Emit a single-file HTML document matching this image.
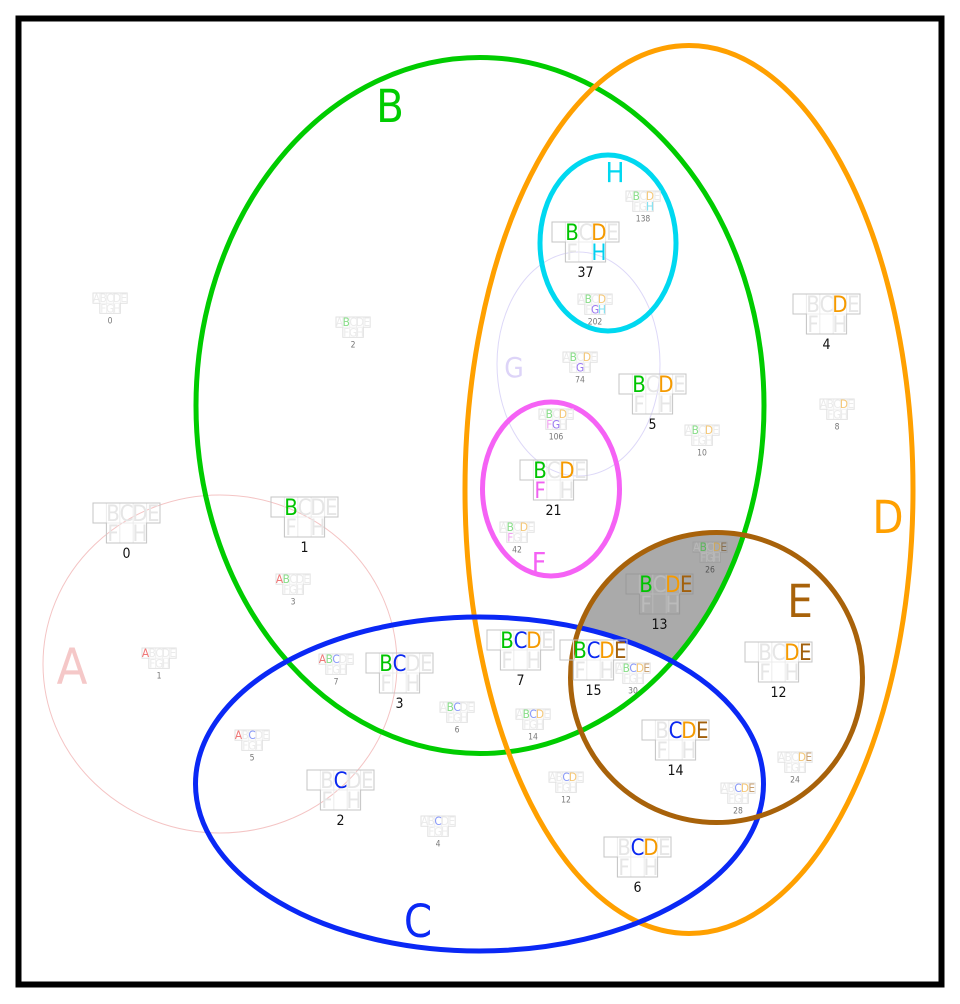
<!DOCTYPE html>
<html><head><meta charset="utf-8"><style>
html,body{margin:0;padding:0;background:#fff}
svg{display:block}
.t{font-family:"Liberation Sans Narrow","DejaVu Sans Condensed","Liberation Sans",sans-serif;text-anchor:middle}
.G text{font-family:"Liberation Sans Narrow","DejaVu Sans Condensed","Liberation Sans",sans-serif;font-size:22px;text-anchor:middle}
.s text{font-size:23px}
.dv{fill:none;stroke:#ececec;stroke-width:1;vector-effect:non-scaling-stroke}
.ol{fill:none;stroke:#c4c4c4;stroke-width:1;vector-effect:non-scaling-stroke}
.s .ol{stroke:#e2e2e2}
.s .dv{stroke:#f0f0f0}
.k{fill:#e6e6e6}
.b{fill:#00c400}.c{fill:#0a28f0}.d{fill:#f59a00}.e{fill:#a2600c}.f{fill:#f060f0}.h{fill:#00d0f0}
.s .k{fill:#ebebeb}
.s .a{fill:#f07878}.s .b{fill:#88dd88}.s .c{fill:#8898f8}.s .d{fill:#f5c878}.s .e{fill:#c8a070}.s .f{fill:#f0a0f0}.s .g{fill:#9a78f0}.s .h{fill:#80e0f0}
.lb{font-family:"Liberation Sans Narrow","DejaVu Sans Condensed","Liberation Sans",sans-serif;font-size:14px;fill:#111;text-anchor:middle}
.sl{font-family:"Liberation Sans Narrow","DejaVu Sans Condensed","Liberation Sans",sans-serif;font-size:8.5px;fill:#777;text-anchor:middle}
</style></head><body>
<svg width="960" height="1004" viewBox="0 0 960 1004" xmlns="http://www.w3.org/2000/svg">
<defs>
<clipPath id="cb"><ellipse cx="480" cy="405.5" rx="284" ry="348"/></clipPath>
<mask id="mc"><rect width="960" height="1004" fill="#fff"/><ellipse cx="479.5" cy="784" rx="284" ry="167" fill="#000"/></mask>
</defs>
<rect x="0" y="0" width="960" height="1004" fill="#fff"/>
<g clip-path="url(#cb)"><g mask="url(#mc)"><ellipse cx="716.5" cy="677.5" rx="146" ry="145" fill="#aaaaaa"/></g></g>

<!-- thin sets -->
<ellipse cx="220" cy="664" rx="177" ry="169" fill="none" stroke="#f4c4c4" stroke-width="1"/>
<ellipse cx="578.5" cy="364" rx="81.5" ry="112" fill="none" stroke="#ddd8f8" stroke-width="1"/>

<!-- big sets -->
<ellipse cx="480" cy="405.5" rx="284" ry="348" fill="none" stroke="#00cc00" stroke-width="5"/>
<ellipse cx="689" cy="489.5" rx="224" ry="444" fill="none" stroke="#ffa000" stroke-width="5"/>
<ellipse cx="479.5" cy="784" rx="284" ry="167" fill="none" stroke="#0a28f5" stroke-width="5"/>
<ellipse cx="716.5" cy="677.5" rx="146" ry="145" fill="none" stroke="#a8620a" stroke-width="5"/>
<ellipse cx="608" cy="243" rx="68" ry="88" fill="none" stroke="#00d8f0" stroke-width="5"/>
<ellipse cx="551" cy="489" rx="68.5" ry="87" fill="none" stroke="#f562f5" stroke-width="5"/>

<!-- set labels -->
<text class="t" x="390" y="122" font-size="45" fill="#00cc00">B</text>
<text class="t" x="888" y="533" font-size="45" fill="#ffa000">D</text>
<text class="t" x="800" y="617" font-size="45" fill="#a8620a">E</text>
<text class="t" x="418" y="937" font-size="45" fill="#0a28f5">C</text>
<text class="t" x="72" y="684" font-size="50" fill="#f5c8c8">A</text>
<text class="t" x="514" y="377" font-size="28" fill="#ddd4f8">G</text>
<text class="t" x="539" y="572" font-size="28" fill="#f562f5">F</text>
<text class="t" x="615" y="182" font-size="28" fill="#00d8f0">H</text>

<!-- large glyphs -->
<g class="G" transform="translate(93,503)"><path class="dv" d="M13.4 0V40M26.8 0V40M40.2 0V40M53.6 0V20M13.4 20H53.6"/><path class="ol" d="M0 0H67V20H53.6V40H13.4V20H0Z"/>
<text x="20.1" y="18" class="k">B</text><text x="33.5" y="18" class="k">C</text><text x="46.9" y="18" class="k">D</text><text x="60.3" y="18" class="k">E</text><text x="20.1" y="38" class="k">F</text><text x="46.9" y="38" class="k">H</text></g>
<text class="lb" x="126.5" y="558">0</text>

<g class="G" transform="translate(271,497)"><path class="dv" d="M13.4 0V40M26.8 0V40M40.2 0V40M53.6 0V20M13.4 20H53.6"/><path class="ol" d="M0 0H67V20H53.6V40H13.4V20H0Z"/>
<text x="20.1" y="18" class="b">B</text><text x="33.5" y="18" class="k">C</text><text x="46.9" y="18" class="k">D</text><text x="60.3" y="18" class="k">E</text><text x="20.1" y="38" class="k">F</text><text x="46.9" y="38" class="k">H</text></g>
<text class="lb" x="304.5" y="552">1</text>

<g class="G" transform="translate(552,222)"><path class="dv" d="M13.4 0V40M26.8 0V40M40.2 0V40M53.6 0V20M13.4 20H53.6"/><path class="ol" d="M0 0H67V20H53.6V40H13.4V20H0Z"/>
<text x="20.1" y="18" class="b">B</text><text x="33.5" y="18" class="k">C</text><text x="46.9" y="18" class="d">D</text><text x="60.3" y="18" class="k">E</text><text x="20.1" y="38" class="k">F</text><text x="46.9" y="38" class="h">H</text></g>
<text class="lb" x="585.5" y="277">37</text>

<g class="G" transform="translate(619,374)"><path class="dv" d="M13.4 0V40M26.8 0V40M40.2 0V40M53.6 0V20M13.4 20H53.6"/><path class="ol" d="M0 0H67V20H53.6V40H13.4V20H0Z"/>
<text x="20.1" y="18" class="b">B</text><text x="33.5" y="18" class="k">C</text><text x="46.9" y="18" class="d">D</text><text x="60.3" y="18" class="k">E</text><text x="20.1" y="38" class="k">F</text><text x="46.9" y="38" class="k">H</text></g>
<text class="lb" x="652.5" y="429">5</text>

<g class="G" transform="translate(793,294)"><path class="dv" d="M13.4 0V40M26.8 0V40M40.2 0V40M53.6 0V20M13.4 20H53.6"/><path class="ol" d="M0 0H67V20H53.6V40H13.4V20H0Z"/>
<text x="20.1" y="18" class="k">B</text><text x="33.5" y="18" class="k">C</text><text x="46.9" y="18" class="d">D</text><text x="60.3" y="18" class="k">E</text><text x="20.1" y="38" class="k">F</text><text x="46.9" y="38" class="k">H</text></g>
<text class="lb" x="826.5" y="349">4</text>

<g class="G" transform="translate(520,460)"><path class="dv" d="M13.4 0V40M26.8 0V40M40.2 0V40M53.6 0V20M13.4 20H53.6"/><path class="ol" d="M0 0H67V20H53.6V40H13.4V20H0Z"/>
<text x="20.1" y="18" class="b">B</text><text x="33.5" y="18" class="k">C</text><text x="46.9" y="18" class="d">D</text><text x="60.3" y="18" class="k">E</text><text x="20.1" y="38" class="f">F</text><text x="46.9" y="38" class="k">H</text></g>
<text class="lb" x="553.5" y="515">21</text>

<g class="G" transform="translate(626,574)"><path class="dv" style="stroke:#b8b8b8" d="M13.4 0V40M26.8 0V40M40.2 0V40M53.6 0V20M13.4 20H53.6"/><path class="ol" style="stroke:#999" d="M0 0H67V20H53.6V40H13.4V20H0Z"/>
<text x="20.1" y="18" class="b">B</text><text x="33.5" y="18" style="fill:#bbb">C</text><text x="46.9" y="18" class="d">D</text><text x="60.3" y="18" class="e">E</text><text x="20.1" y="38" style="fill:#bbb">F</text><text x="46.9" y="38" style="fill:#bbb">H</text></g>
<text class="lb" x="659.5" y="629">13</text>

<g class="G" transform="translate(487,630)"><path class="dv" d="M13.4 0V40M26.8 0V40M40.2 0V40M53.6 0V20M13.4 20H53.6"/><path class="ol" d="M0 0H67V20H53.6V40H13.4V20H0Z"/>
<text x="20.1" y="18" class="b">B</text><text x="33.5" y="18" class="c">C</text><text x="46.9" y="18" class="d">D</text><text x="60.3" y="18" class="k">E</text><text x="20.1" y="38" class="k">F</text><text x="46.9" y="38" class="k">H</text></g>
<text class="lb" x="520.5" y="685">7</text>

<g class="G" transform="translate(560,640)"><path class="dv" d="M13.4 0V40M26.8 0V40M40.2 0V40M53.6 0V20M13.4 20H53.6"/><path class="ol" d="M0 0H67V20H53.6V40H13.4V20H0Z"/>
<text x="20.1" y="18" class="b">B</text><text x="33.5" y="18" class="c">C</text><text x="46.9" y="18" class="d">D</text><text x="60.3" y="18" class="e">E</text><text x="20.1" y="38" class="k">F</text><text x="46.9" y="38" class="k">H</text></g>
<text class="lb" x="593.5" y="695">15</text>

<g class="G" transform="translate(366,653)"><path class="dv" d="M13.4 0V40M26.8 0V40M40.2 0V40M53.6 0V20M13.4 20H53.6"/><path class="ol" d="M0 0H67V20H53.6V40H13.4V20H0Z"/>
<text x="20.1" y="18" class="b">B</text><text x="33.5" y="18" class="c">C</text><text x="46.9" y="18" class="k">D</text><text x="60.3" y="18" class="k">E</text><text x="20.1" y="38" class="k">F</text><text x="46.9" y="38" class="k">H</text></g>
<text class="lb" x="399.5" y="708">3</text>

<g class="G" transform="translate(307,770)"><path class="dv" d="M13.4 0V40M26.8 0V40M40.2 0V40M53.6 0V20M13.4 20H53.6"/><path class="ol" d="M0 0H67V20H53.6V40H13.4V20H0Z"/>
<text x="20.1" y="18" class="k">B</text><text x="33.5" y="18" class="c">C</text><text x="46.9" y="18" class="k">D</text><text x="60.3" y="18" class="k">E</text><text x="20.1" y="38" class="k">F</text><text x="46.9" y="38" class="k">H</text></g>
<text class="lb" x="340.5" y="825">2</text>

<g class="G" transform="translate(745,642)"><path class="dv" d="M13.4 0V40M26.8 0V40M40.2 0V40M53.6 0V20M13.4 20H53.6"/><path class="ol" d="M0 0H67V20H53.6V40H13.4V20H0Z"/>
<text x="20.1" y="18" class="k">B</text><text x="33.5" y="18" class="k">C</text><text x="46.9" y="18" class="d">D</text><text x="60.3" y="18" class="e">E</text><text x="20.1" y="38" class="k">F</text><text x="46.9" y="38" class="k">H</text></g>
<text class="lb" x="778.5" y="697">12</text>

<g class="G" transform="translate(642,720)"><path class="dv" d="M13.4 0V40M26.8 0V40M40.2 0V40M53.6 0V20M13.4 20H53.6"/><path class="ol" d="M0 0H67V20H53.6V40H13.4V20H0Z"/>
<text x="20.1" y="18" class="k">B</text><text x="33.5" y="18" class="c">C</text><text x="46.9" y="18" class="d">D</text><text x="60.3" y="18" class="e">E</text><text x="20.1" y="38" class="k">F</text><text x="46.9" y="38" class="k">H</text></g>
<text class="lb" x="675.5" y="775">14</text>

<g class="G" transform="translate(604,837)"><path class="dv" d="M13.4 0V40M26.8 0V40M40.2 0V40M53.6 0V20M13.4 20H53.6"/><path class="ol" d="M0 0H67V20H53.6V40H13.4V20H0Z"/>
<text x="20.1" y="18" class="k">B</text><text x="33.5" y="18" class="c">C</text><text x="46.9" y="18" class="d">D</text><text x="60.3" y="18" class="k">E</text><text x="20.1" y="38" class="k">F</text><text x="46.9" y="38" class="k">H</text></g>
<text class="lb" x="637.5" y="892">6</text>

<!-- small glyphs -->
<g class="G s" transform="translate(93,293) scale(0.51)"><path class="dv" d="M13.4 0V40M26.8 0V40M40.2 0V40M53.6 0V20M13.4 20H53.6"/><path class="ol" d="M0 0H67V20H53.6V40H13.4V20H0Z"/>
<text x="6.7" y="18" class="k">A</text><text x="20.1" y="18" class="k">B</text><text x="33.5" y="18" class="k">C</text><text x="46.9" y="18" class="k">D</text><text x="60.3" y="18" class="k">E</text><text x="20.1" y="38" class="k">F</text><text x="33.5" y="38" class="k">G</text><text x="46.9" y="38" class="k">H</text></g>
<text class="sl" x="110" y="323.5">0</text>

<g class="G s" transform="translate(336,317) scale(0.51)"><path class="dv" d="M13.4 0V40M26.8 0V40M40.2 0V40M53.6 0V20M13.4 20H53.6"/><path class="ol" d="M0 0H67V20H53.6V40H13.4V20H0Z"/>
<text x="6.7" y="18" class="k">A</text><text x="20.1" y="18" class="b">B</text><text x="33.5" y="18" class="k">C</text><text x="46.9" y="18" class="k">D</text><text x="60.3" y="18" class="k">E</text><text x="20.1" y="38" class="k">F</text><text x="33.5" y="38" class="k">G</text><text x="46.9" y="38" class="k">H</text></g>
<text class="sl" x="353" y="347.5">2</text>

<g class="G s" transform="translate(626,191) scale(0.51)"><path class="dv" d="M13.4 0V40M26.8 0V40M40.2 0V40M53.6 0V20M13.4 20H53.6"/><path class="ol" d="M0 0H67V20H53.6V40H13.4V20H0Z"/>
<text x="6.7" y="18" class="k">A</text><text x="20.1" y="18" class="b">B</text><text x="33.5" y="18" class="k">C</text><text x="46.9" y="18" class="d">D</text><text x="60.3" y="18" class="k">E</text><text x="20.1" y="38" class="k">F</text><text x="33.5" y="38" class="k">G</text><text x="46.9" y="38" class="h">H</text></g>
<text class="sl" x="643" y="221.5">138</text>

<g class="G s" transform="translate(578,294) scale(0.51)"><path class="dv" d="M13.4 0V40M26.8 0V40M40.2 0V40M53.6 0V20M13.4 20H53.6"/><path class="ol" d="M0 0H67V20H53.6V40H13.4V20H0Z"/>
<text x="6.7" y="18" class="k">A</text><text x="20.1" y="18" class="b">B</text><text x="33.5" y="18" class="k">C</text><text x="46.9" y="18" class="d">D</text><text x="60.3" y="18" class="k">E</text><text x="20.1" y="38" class="k">F</text><text x="33.5" y="38" class="g">G</text><text x="46.9" y="38" class="h">H</text></g>
<text class="sl" x="595" y="324.5">202</text>

<g class="G s" transform="translate(563,352) scale(0.51)"><path class="dv" d="M13.4 0V40M26.8 0V40M40.2 0V40M53.6 0V20M13.4 20H53.6"/><path class="ol" d="M0 0H67V20H53.6V40H13.4V20H0Z"/>
<text x="6.7" y="18" class="k">A</text><text x="20.1" y="18" class="b">B</text><text x="33.5" y="18" class="k">C</text><text x="46.9" y="18" class="d">D</text><text x="60.3" y="18" class="k">E</text><text x="20.1" y="38" class="k">F</text><text x="33.5" y="38" class="g">G</text><text x="46.9" y="38" class="k">H</text></g>
<text class="sl" x="580" y="382.5">74</text>

<g class="G s" transform="translate(539,409) scale(0.51)"><path class="dv" d="M13.4 0V40M26.8 0V40M40.2 0V40M53.6 0V20M13.4 20H53.6"/><path class="ol" d="M0 0H67V20H53.6V40H13.4V20H0Z"/>
<text x="6.7" y="18" class="k">A</text><text x="20.1" y="18" class="b">B</text><text x="33.5" y="18" class="k">C</text><text x="46.9" y="18" class="d">D</text><text x="60.3" y="18" class="k">E</text><text x="20.1" y="38" class="f">F</text><text x="33.5" y="38" class="g">G</text><text x="46.9" y="38" class="k">H</text></g>
<text class="sl" x="556" y="439.5">106</text>

<g class="G s" transform="translate(685,425) scale(0.51)"><path class="dv" d="M13.4 0V40M26.8 0V40M40.2 0V40M53.6 0V20M13.4 20H53.6"/><path class="ol" d="M0 0H67V20H53.6V40H13.4V20H0Z"/>
<text x="6.7" y="18" class="k">A</text><text x="20.1" y="18" class="b">B</text><text x="33.5" y="18" class="k">C</text><text x="46.9" y="18" class="d">D</text><text x="60.3" y="18" class="k">E</text><text x="20.1" y="38" class="k">F</text><text x="33.5" y="38" class="k">G</text><text x="46.9" y="38" class="k">H</text></g>
<text class="sl" x="702" y="455.5">10</text>

<g class="G s" transform="translate(820,399) scale(0.51)"><path class="dv" d="M13.4 0V40M26.8 0V40M40.2 0V40M53.6 0V20M13.4 20H53.6"/><path class="ol" d="M0 0H67V20H53.6V40H13.4V20H0Z"/>
<text x="6.7" y="18" class="k">A</text><text x="20.1" y="18" class="k">B</text><text x="33.5" y="18" class="k">C</text><text x="46.9" y="18" class="d">D</text><text x="60.3" y="18" class="k">E</text><text x="20.1" y="38" class="k">F</text><text x="33.5" y="38" class="k">G</text><text x="46.9" y="38" class="k">H</text></g>
<text class="sl" x="837" y="429.5">8</text>

<g class="G s" transform="translate(500,522) scale(0.51)"><path class="dv" d="M13.4 0V40M26.8 0V40M40.2 0V40M53.6 0V20M13.4 20H53.6"/><path class="ol" d="M0 0H67V20H53.6V40H13.4V20H0Z"/>
<text x="6.7" y="18" class="k">A</text><text x="20.1" y="18" class="b">B</text><text x="33.5" y="18" class="k">C</text><text x="46.9" y="18" class="d">D</text><text x="60.3" y="18" class="k">E</text><text x="20.1" y="38" class="f">F</text><text x="33.5" y="38" class="k">G</text><text x="46.9" y="38" class="k">H</text></g>
<text class="sl" x="517" y="552.5">42</text>

<g class="G s" transform="translate(693,542) scale(0.51)"><path class="dv" style="stroke:#b8b8b8" d="M13.4 0V40M26.8 0V40M40.2 0V40M53.6 0V20M13.4 20H53.6"/><path class="ol" style="stroke:#a0a0a0" d="M0 0H67V20H53.6V40H13.4V20H0Z"/>
<text x="6.7" y="18" style="fill:#b8b8b8">A</text><text x="20.1" y="18" style="fill:#5cb85c">B</text><text x="33.5" y="18" style="fill:#b8b8b8">C</text><text x="46.9" y="18" style="fill:#cfa85a">D</text><text x="60.3" y="18" style="fill:#8a7050">E</text><text x="20.1" y="38" style="fill:#b8b8b8">F</text><text x="33.5" y="38" style="fill:#b8b8b8">G</text><text x="46.9" y="38" style="fill:#b8b8b8">H</text></g>
<text class="sl" x="710" y="572.5" style="fill:#555">26</text>

<g class="G s" transform="translate(616,663) scale(0.51)"><path class="dv" d="M13.4 0V40M26.8 0V40M40.2 0V40M53.6 0V20M13.4 20H53.6"/><path class="ol" d="M0 0H67V20H53.6V40H13.4V20H0Z"/>
<text x="6.7" y="18" class="k">A</text><text x="20.1" y="18" class="b">B</text><text x="33.5" y="18" class="c">C</text><text x="46.9" y="18" class="d">D</text><text x="60.3" y="18" class="e">E</text><text x="20.1" y="38" class="k">F</text><text x="33.5" y="38" class="k">G</text><text x="46.9" y="38" class="k">H</text></g>
<text class="sl" x="633" y="693.5">30</text>

<g class="G s" transform="translate(276,574) scale(0.51)"><path class="dv" d="M13.4 0V40M26.8 0V40M40.2 0V40M53.6 0V20M13.4 20H53.6"/><path class="ol" d="M0 0H67V20H53.6V40H13.4V20H0Z"/>
<text x="6.7" y="18" class="a">A</text><text x="20.1" y="18" class="b">B</text><text x="33.5" y="18" class="k">C</text><text x="46.9" y="18" class="k">D</text><text x="60.3" y="18" class="k">E</text><text x="20.1" y="38" class="k">F</text><text x="33.5" y="38" class="k">G</text><text x="46.9" y="38" class="k">H</text></g>
<text class="sl" x="293" y="604.5">3</text>

<g class="G s" transform="translate(319,654) scale(0.51)"><path class="dv" d="M13.4 0V40M26.8 0V40M40.2 0V40M53.6 0V20M13.4 20H53.6"/><path class="ol" d="M0 0H67V20H53.6V40H13.4V20H0Z"/>
<text x="6.7" y="18" class="a">A</text><text x="20.1" y="18" class="b">B</text><text x="33.5" y="18" class="c">C</text><text x="46.9" y="18" class="k">D</text><text x="60.3" y="18" class="k">E</text><text x="20.1" y="38" class="k">F</text><text x="33.5" y="38" class="k">G</text><text x="46.9" y="38" class="k">H</text></g>
<text class="sl" x="336" y="684.5">7</text>

<g class="G s" transform="translate(440,702) scale(0.51)"><path class="dv" d="M13.4 0V40M26.8 0V40M40.2 0V40M53.6 0V20M13.4 20H53.6"/><path class="ol" d="M0 0H67V20H53.6V40H13.4V20H0Z"/>
<text x="6.7" y="18" class="k">A</text><text x="20.1" y="18" class="b">B</text><text x="33.5" y="18" class="c">C</text><text x="46.9" y="18" class="k">D</text><text x="60.3" y="18" class="k">E</text><text x="20.1" y="38" class="k">F</text><text x="33.5" y="38" class="k">G</text><text x="46.9" y="38" class="k">H</text></g>
<text class="sl" x="457" y="732.5">6</text>

<g class="G s" transform="translate(235,730) scale(0.51)"><path class="dv" d="M13.4 0V40M26.8 0V40M40.2 0V40M53.6 0V20M13.4 20H53.6"/><path class="ol" d="M0 0H67V20H53.6V40H13.4V20H0Z"/>
<text x="6.7" y="18" class="a">A</text><text x="20.1" y="18" class="k">B</text><text x="33.5" y="18" class="c">C</text><text x="46.9" y="18" class="k">D</text><text x="60.3" y="18" class="k">E</text><text x="20.1" y="38" class="k">F</text><text x="33.5" y="38" class="k">G</text><text x="46.9" y="38" class="k">H</text></g>
<text class="sl" x="252" y="760.5">5</text>

<g class="G s" transform="translate(421,816) scale(0.51)"><path class="dv" d="M13.4 0V40M26.8 0V40M40.2 0V40M53.6 0V20M13.4 20H53.6"/><path class="ol" d="M0 0H67V20H53.6V40H13.4V20H0Z"/>
<text x="6.7" y="18" class="k">A</text><text x="20.1" y="18" class="k">B</text><text x="33.5" y="18" class="c">C</text><text x="46.9" y="18" class="k">D</text><text x="60.3" y="18" class="k">E</text><text x="20.1" y="38" class="k">F</text><text x="33.5" y="38" class="k">G</text><text x="46.9" y="38" class="k">H</text></g>
<text class="sl" x="438" y="846.5">4</text>

<g class="G s" transform="translate(516,709) scale(0.51)"><path class="dv" d="M13.4 0V40M26.8 0V40M40.2 0V40M53.6 0V20M13.4 20H53.6"/><path class="ol" d="M0 0H67V20H53.6V40H13.4V20H0Z"/>
<text x="6.7" y="18" class="k">A</text><text x="20.1" y="18" class="b">B</text><text x="33.5" y="18" class="c">C</text><text x="46.9" y="18" class="d">D</text><text x="60.3" y="18" class="k">E</text><text x="20.1" y="38" class="k">F</text><text x="33.5" y="38" class="k">G</text><text x="46.9" y="38" class="k">H</text></g>
<text class="sl" x="533" y="739.5">14</text>

<g class="G s" transform="translate(549,772) scale(0.51)"><path class="dv" d="M13.4 0V40M26.8 0V40M40.2 0V40M53.6 0V20M13.4 20H53.6"/><path class="ol" d="M0 0H67V20H53.6V40H13.4V20H0Z"/>
<text x="6.7" y="18" class="k">A</text><text x="20.1" y="18" class="k">B</text><text x="33.5" y="18" class="c">C</text><text x="46.9" y="18" class="d">D</text><text x="60.3" y="18" class="k">E</text><text x="20.1" y="38" class="k">F</text><text x="33.5" y="38" class="k">G</text><text x="46.9" y="38" class="k">H</text></g>
<text class="sl" x="566" y="802.5">12</text>

<g class="G s" transform="translate(778,752) scale(0.51)"><path class="dv" d="M13.4 0V40M26.8 0V40M40.2 0V40M53.6 0V20M13.4 20H53.6"/><path class="ol" d="M0 0H67V20H53.6V40H13.4V20H0Z"/>
<text x="6.7" y="18" class="k">A</text><text x="20.1" y="18" class="k">B</text><text x="33.5" y="18" class="k">C</text><text x="46.9" y="18" class="d">D</text><text x="60.3" y="18" class="e">E</text><text x="20.1" y="38" class="k">F</text><text x="33.5" y="38" class="k">G</text><text x="46.9" y="38" class="k">H</text></g>
<text class="sl" x="795" y="782.5">24</text>

<g class="G s" transform="translate(721,783) scale(0.51)"><path class="dv" d="M13.4 0V40M26.8 0V40M40.2 0V40M53.6 0V20M13.4 20H53.6"/><path class="ol" d="M0 0H67V20H53.6V40H13.4V20H0Z"/>
<text x="6.7" y="18" class="k">A</text><text x="20.1" y="18" class="k">B</text><text x="33.5" y="18" class="c">C</text><text x="46.9" y="18" class="d">D</text><text x="60.3" y="18" class="e">E</text><text x="20.1" y="38" class="k">F</text><text x="33.5" y="38" class="k">G</text><text x="46.9" y="38" class="k">H</text></g>
<text class="sl" x="738" y="813.5">28</text>

<g class="G s" transform="translate(142,648) scale(0.51)"><path class="dv" d="M13.4 0V40M26.8 0V40M40.2 0V40M53.6 0V20M13.4 20H53.6"/><path class="ol" d="M0 0H67V20H53.6V40H13.4V20H0Z"/>
<text x="6.7" y="18" class="a">A</text><text x="20.1" y="18" class="k">B</text><text x="33.5" y="18" class="k">C</text><text x="46.9" y="18" class="k">D</text><text x="60.3" y="18" class="k">E</text><text x="20.1" y="38" class="k">F</text><text x="33.5" y="38" class="k">G</text><text x="46.9" y="38" class="k">H</text></g>
<text class="sl" x="159" y="678.5">1</text>

<!-- frame -->
<rect x="18.5" y="18.5" width="923" height="966" fill="none" stroke="#000" stroke-width="6"/>
</svg>
</body></html>
